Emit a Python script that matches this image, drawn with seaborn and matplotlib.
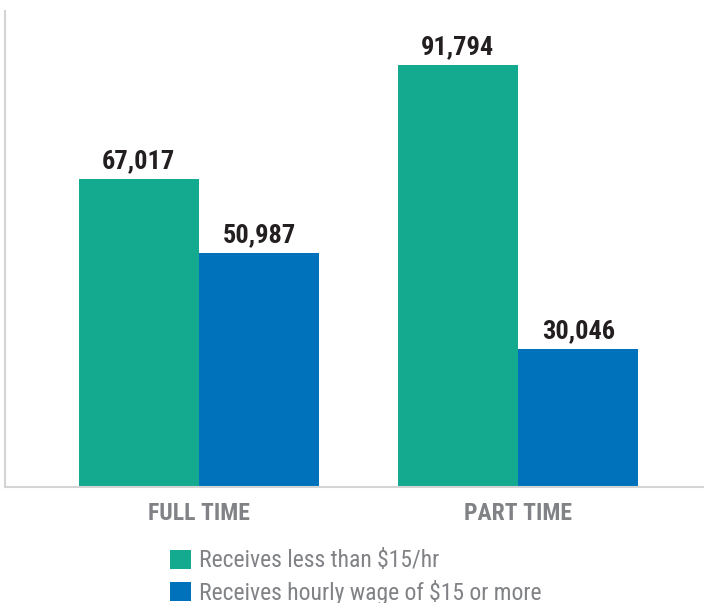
import matplotlib
matplotlib.use("Agg")
import matplotlib.pyplot as plt
import seaborn as sns
import pandas as pd

categories = ["FULL TIME", "PART TIME"]
series_names = ["Receives less than $15/hr", "Receives hourly wage of $15 or more"]
less_than_15 = [67017, 91794]
fifteen_or_more = [50987, 30046]
colors = ["#13AA90", "#0072BB"]

df = pd.DataFrame({
    "status": categories * 2,
    "series": [series_names[0]] * 2 + [series_names[1]] * 2,
    "value": less_than_15 + fifteen_or_more,
})

sns.set_style("white")
FONT = ["Roboto Condensed", "DejaVu Sans"]
plt.rcParams["font.family"] = FONT

fig = plt.figure(figsize=(7.04, 6.03), dpi=100)
ax = fig.add_axes([5 / 704, 116 / 603, 699 / 704, 476 / 603])

sns.barplot(data=df, x="status", y="value", hue="series", order=categories,
            hue_order=series_names, palette=colors, saturation=1, width=0.755,
            linewidth=0, ax=ax, legend=True)

for cont in ax.containers:
    ax.bar_label(cont, labels=[f"{v:,.0f}" for v in cont.datavalues], padding=4,
                 fontsize=19, fontweight="bold", color="#231f20")

ax.set_xlim(-0.608, 1.583)
ax.set_ylim(0, 103570)
ax.set_xlabel("")
ax.set_ylabel("")
ax.set_yticks([])
ax.tick_params(axis="x", length=0, pad=11, labelsize=17, labelcolor="#808285")
for lab in ax.get_xticklabels():
    lab.set_fontweight("bold")

for s in ["top", "right"]:
    ax.spines[s].set_visible(False)
for s in ["left", "bottom"]:
    ax.spines[s].set_color("#d4d4d4")
    ax.spines[s].set_linewidth(1.5)

handles, labels = ax.get_legend_handles_labels()
ax.get_legend().remove()
leg = fig.legend(handles, labels, loc="upper left", bbox_to_anchor=(161 / 704, 1 - 540 / 603),
                 frameon=False, fontsize=17, handlelength=0.85, handleheight=0.85,
                 handletextpad=0.35, labelspacing=0.3, borderaxespad=0)
for t in leg.get_texts():
    t.set_color("#808285")

fig.savefig("out.png", dpi=100)
